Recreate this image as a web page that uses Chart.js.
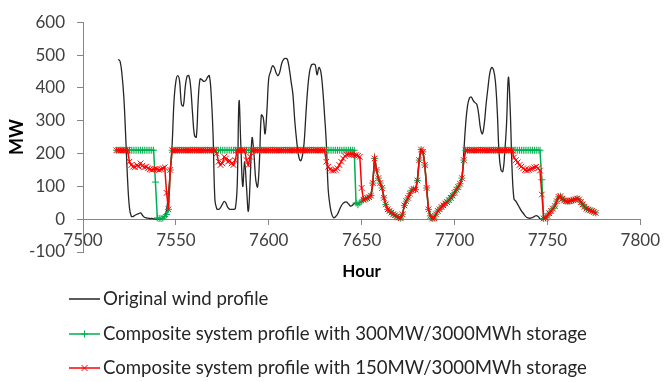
<!DOCTYPE html>
<html>
<head>
<meta charset="utf-8">
<script src="https://cdn.jsdelivr.net/npm/chart.js@4.4.1/dist/chart.umd.min.js"></script>
<style>
  html, body { margin: 0; padding: 0; background: #fff; }
</style>
</head>
<body>
<canvas id="chart" width="666" height="382"></canvas>
<script>
// hourly values
const windStart = 7519;
const compositeStart = 7518;

// stretch where all three profiles coincide (storage empty)
const lowStretch = [
  59, 62, 64, 67, 72, 110, 185, 150, 125, 110,
  95, 65, 45, 30, 25, 20, 15, 12, 8, 5,
  3, 15, 42, 55, 65, 78, 88, 92, 90, 118,
  180, 212, 205, 165, 95, 30, 10, 2, 3, 15,
  25, 30, 37, 42, 48, 52, 58, 65, 72, 80,
  90, 98, 108, 125
];

const tailStretch = [
  2, 4, 10, 18, 25, 32, 40, 55, 68, 70,
  62, 57, 55, 54, 55, 57, 58, 60, 63, 60,
  52, 45, 38, 32, 29, 27, 25, 22, 19
];

const windMW = [
  487, 480, 440, 370, 250, 120, 35, 9, 8, 12,
  15, 17, 19, 12, 6, 4, 3, 2, 2, 1,
  0, 0, 0, 1, 3, 10, 28, 80, 150, 230,
  360, 420, 437, 420, 350, 345, 400, 435, 437, 400,
  320, 255, 250, 360, 427, 425, 420, 422, 432, 437,
  380, 260, 60, 32, 30, 35, 45, 54, 48, 35,
  30, 30, 30, 32, 100, 360, 220, 100, 175, 100,
  24, 120, 248, 200, 120, 98, 180, 317, 310, 260,
  330, 430, 450, 467, 462, 445, 437, 450, 475, 487,
  490, 487, 460, 420, 380, 300, 240, 195, 178, 190,
  230, 320, 400, 450, 470, 472, 470, 440, 462, 450,
  400, 320, 230, 90, 40, 14, 4, 8, 15,
  28, 40, 48, 52, 52, 46, 40, 42, 48, 49,
  45, 50, 55
].concat(lowStretch, [
  205, 290, 345, 368, 372, 362, 355, 350, 320, 275,
  260, 290, 350, 400, 445, 462, 455, 420, 330, 200,
  150, 145, 200, 290, 432, 330, 150, 62, 55, 45,
  35, 25, 18, 10, 5, 3, 3, 5, 8, 11,
  8, 2, 1, 2
]);

const storage300 = [
  210, 210, 210, 210, 210, 210, 210, 210, 210, 210,
  210, 210, 210, 210, 210, 210, 210, 210, 210, 210, 210,
  113, 4, 2, 2, 3, 8, 14, 30, 150,
  210, 210, 210, 210, 210, 210, 210, 210, 210, 210,
  210, 210, 210, 210, 210, 210, 210, 210, 210, 210,
  210, 210, 210, 210, 210, 210, 210, 210, 210, 210,
  210, 210, 210, 210, 210, 210, 210, 210, 210, 210,
  210, 210, 210, 210, 210, 210, 210, 210, 210, 210,
  210, 210, 210, 210, 210, 210, 210, 210, 210, 210,
  210, 210, 210, 210, 210, 210, 210, 210, 210, 210,
  210, 210, 210, 210, 210, 210, 210, 210, 210, 210,
  210, 210, 210, 210, 210, 210, 210, 210, 210, 210,
  210, 210, 210, 210, 210, 210, 210, 210, 210,
  49, 44, 50, 55
].concat(lowStretch, [
  180,
  210, 210, 210, 210, 210, 210, 210, 210, 210, 210,
  210, 210, 210, 210, 210, 210, 210, 210, 210, 210,
  210, 210, 210, 210, 210, 210, 210, 210, 210, 210,
  210, 210, 210, 210, 210, 210, 210, 210, 210, 210, 210,
  120
], tailStretch);

const storage150 = [
  210, 210, 210, 210, 210, 210, 210,
  175, 165, 160, 158, 165, 160, 170, 163, 158, 160,
  155, 152, 150, 152, 153, 152, 150, 152, 155, 158,
  80, 30, 150,
  210, 210, 210, 210, 210, 210, 210, 210, 210, 210,
  210, 210, 210, 210, 210, 210, 210, 210, 210, 210,
  210, 210, 210, 210,
  200, 175, 165, 170, 190, 185, 175, 178, 170, 165, 180,
  210, 210, 210, 210, 210,
  180, 165, 190,
  210, 210, 210, 210, 210, 210, 210, 210, 210, 210,
  210, 210, 210, 210, 210, 210, 210, 210, 210, 210,
  210, 210, 210, 210, 210, 210, 210, 210, 210, 210,
  210, 210, 210, 210, 210, 210, 210, 210, 210, 210,
  175, 160, 152, 148, 148, 150, 155, 165, 175, 185,
  192, 197, 198, 198, 197, 195, 195, 193, 190, 95
].concat(lowStretch, [
  180,
  210, 210, 210, 210, 210, 210, 210, 210, 210, 210,
  210, 210, 210, 210, 210, 210, 210, 210, 210, 210,
  210, 210, 210, 210, 210, 210,
  188, 180, 173, 165, 160, 155, 150, 148, 150, 153,
  155, 158, 160, 155, 148, 75
], tailStretch);

const seriesLabels = [
  "Original wind profile",
  "Composite system profile with 300MW/3000MWh storage",
  "Composite system profile with 150MW/3000MWh storage",
];

const hourTicks = [7500, 7550, 7600, 7650, 7700, 7750, 7800];
const mwTicks = [-100, 0, 100, 200, 300, 400, 500, 600];

const BLACK = "#262626";
const GREEN = "#00b050";
const RED = "#ff0000";
const AXIS = "#868686";
const FONT = "Lato, 'Open Sans', sans-serif";

const toPoints = (start, values) =>
  values.map((v, i) => ({ x: start + i, y: v }));

// Excel-like legend: one entry per row, line with marker, below the axis title
const rowLegend = {
  id: "rowLegend",
  afterDraw(chart) {
    const { ctx } = chart;
    const rows = [299, 334, 368];
    ctx.save();
    chart.data.datasets.forEach((ds, i) => {
      const y = rows[i];
      ctx.strokeStyle = ds.borderColor;
      ctx.lineWidth = 1.5;
      ctx.beginPath();
      ctx.moveTo(69, y);
      ctx.lineTo(100, y);
      ctx.stroke();
      if (ds.pointStyle === "cross") {
        ctx.lineWidth = 1;
        ctx.beginPath();
        ctx.moveTo(84.5, y - 3.5);
        ctx.lineTo(84.5, y + 3.5);
        ctx.moveTo(81, y);
        ctx.lineTo(88, y);
        ctx.stroke();
      } else if (ds.pointStyle === "crossRot") {
        ctx.lineWidth = 1;
        ctx.beginPath();
        ctx.moveTo(81.5, y - 3);
        ctx.lineTo(87.5, y + 3);
        ctx.moveTo(87.5, y - 3);
        ctx.lineTo(81.5, y + 3);
        ctx.stroke();
      }
      ctx.fillStyle = BLACK;
      ctx.font = "18.6px " + FONT;
      ctx.textBaseline = "middle";
      ctx.textAlign = "left";
      ctx.fillText(ds.label, 103, y);
    });
    ctx.restore();
  },
};

new Chart(document.getElementById("chart"), {
  type: "line",
  data: {
    datasets: [
      {
        label: seriesLabels[0],
        data: toPoints(windStart, windMW),
        borderColor: BLACK,
        borderWidth: 1.3,
        pointRadius: 0,
        tension: 0.4,
        order: 2,
      },
      {
        label: seriesLabels[1],
        data: toPoints(compositeStart, storage300),
        borderColor: GREEN,
        borderWidth: 1.5,
        pointStyle: "cross",
        pointRadius: 3.5,
        pointBorderWidth: 1,
        pointBorderColor: GREEN,
        tension: 0,
        order: 1,
      },
      {
        label: seriesLabels[2],
        data: toPoints(compositeStart, storage150),
        borderColor: RED,
        borderWidth: 1.5,
        pointStyle: "crossRot",
        pointRadius: 4,
        pointBorderWidth: 1,
        pointBorderColor: RED,
        tension: 0,
        order: 0,
      },
    ],
  },
  options: {
    responsive: false,
    animation: false,
    layout: { padding: { top: 17, right: 23, bottom: 130, left: 0 } },
    plugins: {
      legend: { display: false },
      tooltip: { enabled: false },
    },
    scales: {
      x: {
        type: "linear",
        position: { y: 0 },
        min: hourTicks[0],
        max: hourTicks[hourTicks.length - 1],
        afterBuildTicks: (scale) => {
          scale.ticks = hourTicks.map((v) => ({ value: v }));
        },
        afterFit: (scale) => {
          scale.height = 63;
        },
        ticks: {
          color: "#404040",
          font: { family: FONT, size: 17 },
          padding: 6,
          maxRotation: 0,
          callback: (v) => String(v),
        },
        grid: {
          drawOnChartArea: false,
          drawTicks: true,
          tickLength: 5,
          color: AXIS,
        },
        border: { color: AXIS, width: 1 },
        title: {
          display: true,
          text: "Hour",
          color: "#000",
          font: { family: FONT, size: 17, weight: "bold" },
          padding: { top: 0, bottom: 0 },
        },
      },
      y: {
        min: mwTicks[0],
        max: mwTicks[mwTicks.length - 1],
        afterBuildTicks: (scale) => {
          scale.ticks = mwTicks.map((v) => ({ value: v }));
        },
        afterFit: (scale) => {
          scale.width = 83;
        },
        ticks: {
          color: "#404040",
          font: { family: FONT, size: 17 },
          padding: 12,
          callback: (v) => String(v),
        },
        grid: {
          drawOnChartArea: false,
          drawTicks: true,
          tickLength: 6,
          color: AXIS,
        },
        border: { color: AXIS, width: 1 },
        title: {
          display: true,
          text: "MW",
          color: "#000",
          font: { family: FONT, size: 18, weight: "bold" },
          padding: { top: 6, bottom: 0 },
        },
      },
    },
  },
  plugins: [rowLegend],
});
</script>
</body>
</html>
